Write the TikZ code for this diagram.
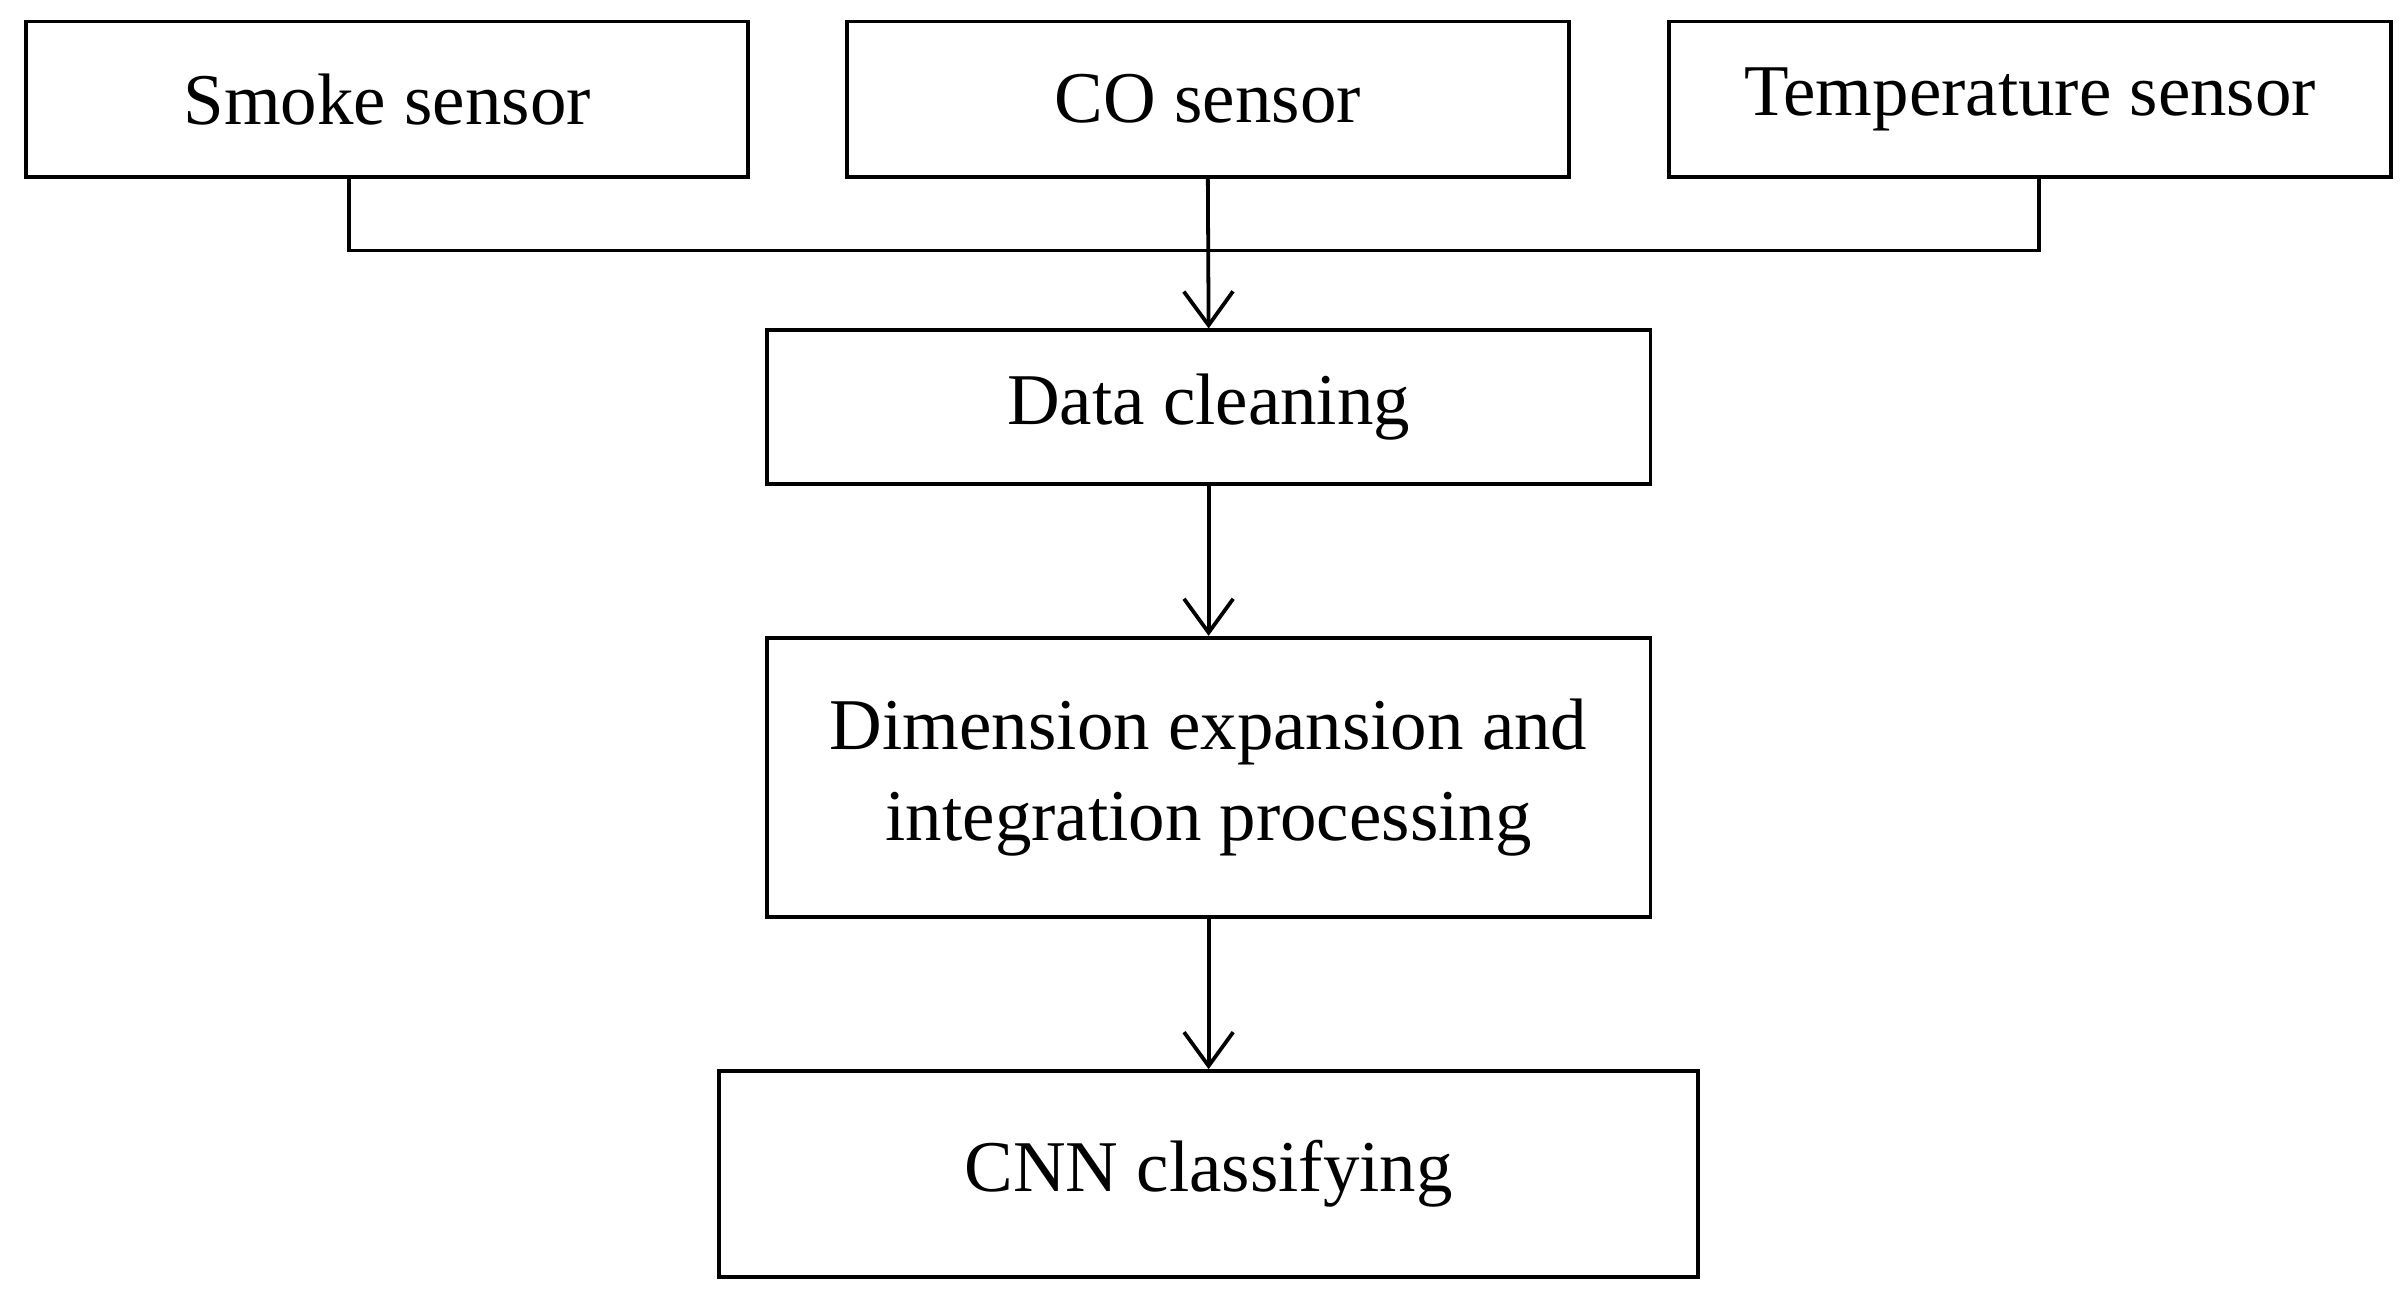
\documentclass[tikz,border=0pt]{standalone}
\usepackage{fontspec}
\setmainfont{Liberation Serif}
\usetikzlibrary{arrows.meta}
\begin{document}
\begin{tikzpicture}[
  box/.style={draw, line width=0.7pt, inner sep=0pt, align=center,
    font=\fontsize{13.5}{17}\selectfont},
  link/.style={line width=0.7pt},
  flow/.style={link, -{Straight Barb[length=2.2mm, width=3.2mm]}}
]
\useasboundingbox (0,0) rectangle (15.67,-8.5);

% sensors
\node[box, minimum width=4.7cm, minimum height=1.01cm] (smoke) at (2.52,-0.645) {Smoke sensor};
\node[box, minimum width=4.7cm, minimum height=1.01cm] (co) at (7.86,-0.645) {CO sensor};
\node[box, minimum width=4.7cm, minimum height=1.01cm] (temp) at (13.21,-0.645) {Temperature sensor};

% processing chain
\node[box, minimum width=5.75cm, minimum height=1.0cm] (clean) at (7.865,-2.65) {Data cleaning};
\node[box, minimum width=5.75cm, minimum height=1.82cm] (dim) at (7.865,-5.06) {Dimension expansion and\\integration processing};
\node[box, minimum width=6.37cm, minimum height=1.34cm] (cnn) at (7.865,-7.64) {CNN classifying};

\coordinate (bus) at (7.86,-1.63);
\draw[link] ([xshift=-0.25cm]smoke.south) |- (bus);
\draw[link] ([xshift=0.06cm]temp.south) |- (bus);
\draw[flow] (co.south) -- (clean.north);
\draw[flow] (clean) -- (dim);
\draw[flow] (dim) -- (cnn);
\end{tikzpicture}
\end{document}
